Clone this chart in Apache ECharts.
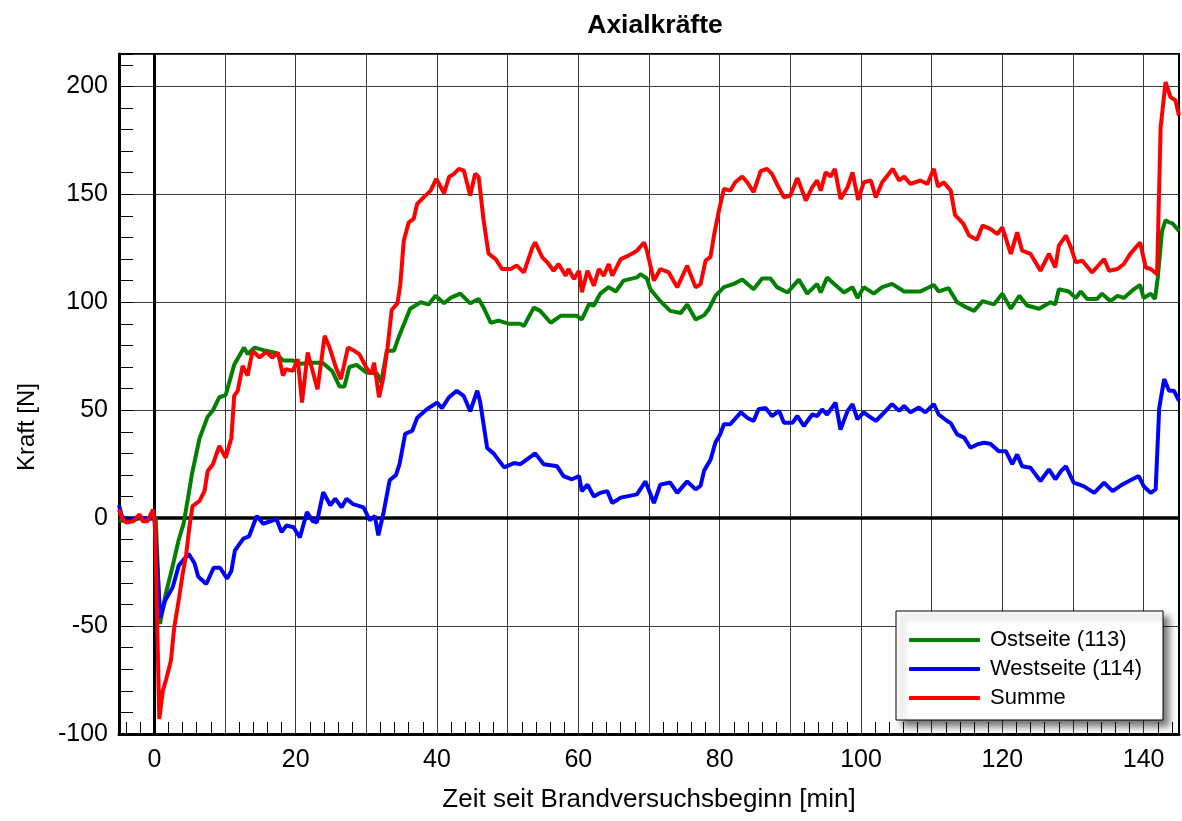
<!DOCTYPE html>
<html>
<head>
<meta charset="utf-8">
<title>Axialkräfte</title>
<script src="https://cdn.jsdelivr.net/npm/echarts@6/dist/echarts.min.js"></script>
<style>
  html, body { margin: 0; padding: 0; background: #fff; }
  #chart { width: 1182px; height: 821px; }
</style>
</head>
<body>
<div id="chart"></div>
<script>
// Axial forces [N] over time since start of the fire test [min]
const ostseite = [
  [-5,-1],[-4,-1.5],[-3,-1],[-2,0],[-1,-0.5],[-0.2,1],[0.2,0],[0.8,-49],[1.55,-36],[2.5,-23.5],
  [3.45,-10],[4.15,-2.5],[4.85,11],[5.3,20],[6.4,37],[7.55,47],[8.3,50],[9.2,56],[10.1,57],[11.3,71],
  [12.7,79],[13.2,76],[14.2,79],[15.8,77.5],[17.2,76.5],[18.2,73],[19.6,73],[20.8,71.5],[22.3,72],[23.8,72],
  [25.2,68],[26.2,61],[26.9,61],[27.6,70],[28.6,71],[30,67.5],[31.5,67],[32.1,63],[32.9,77.5],[33.9,77.5],
  [34.6,84],[36.2,97],[37.7,100],[38.8,99],[39.8,103],[41,99.5],[41.9,102],[43.3,104],[44.7,99.5],[45.9,101.5],
  [46.6,97.5],[47.6,90.5],[48.7,91.5],[50.2,90],[51.8,90],[52.3,89],[53.7,97.5],[54.6,96],[56.1,90.5],[57.5,93.7],
  [59.8,93.7],[60.5,92],[61.5,99],[62.2,98.5],[63.1,104],[64.3,107],[65.3,105],[66.4,110],[68.3,111.5],[68.8,113],
  [69.7,111],[70.2,106],[71.6,100.5],[73,96],[74.5,95],[75.4,99],[76.6,92],[77.8,94],[78.5,97],[79.4,103],
  [80.6,107],[82,108.5],[83.2,110.5],[84.8,106],[86,111],[87.2,111],[88.1,107],[89.6,104.5],[91.2,110.5],[92.4,104],
  [93.8,108.5],[94.3,104.5],[95.2,111.5],[96.2,108.5],[97.6,104.5],[98.8,107],[99.5,102],[100.4,107],[101.8,104],[103,107],
  [104.4,108.5],[106.1,105],[108.4,105],[110.3,108],[111,105],[112.4,106.5],[113.6,100],[115,97.5],[116,96],[117.2,100.5],
  [118.8,99],[120,104],[121.2,97],[122.4,103],[123.5,98.5],[125.2,97],[126.8,100],[127.5,99],[128,106],[129.4,105],
  [130.4,102],[131.1,105],[132,101.5],[133.4,101.5],[134.1,104],[135.3,100.5],[136.3,103],[137.2,102],[138.6,106],[139.5,108],
  [140,102],[141,104],[141.6,101.5],[142,111.5],[142.6,133],[143.1,138],[143.6,137],[144.1,136.5],[145,133]
];

const westseite = [
  [-5,6],[-4.6,1],[-4,-1],[-3,-0.5],[-2,0.5],[-1,-0.5],[0,0],[0.85,-46],[1.55,-38],[2.6,-32],
  [3.45,-22],[4.85,-16.5],[5.7,-21],[6.2,-27],[7.35,-30.5],[8.4,-23],[9.3,-23],[10.3,-28],[10.9,-24.5],[11.4,-15],
  [12.6,-9.5],[13.4,-8.5],[14.5,1],[15.4,-2.6],[17.3,-0.5],[18,-6.5],[18.7,-3.4],[19.7,-4.2],[20.6,-9],[21.6,2.8],
  [22.4,-1.4],[23,-2],[23.9,12],[24.9,6],[25.6,9],[26.5,5],[27.2,9],[28.1,6.5],[29.6,5],[30.5,-1],
  [31.2,1],[31.7,-8],[32.4,2],[33.3,17.5],[34.2,20],[34.7,25],[35.5,39],[36.5,40.5],[37.2,46.5],[38.6,50.5],
  [40,53.5],[40.7,51],[41.7,56],[42.8,59],[43.8,56.5],[44.7,49.5],[45.7,59],[46.1,54],[47.1,32.5],[48,30],
  [49.5,23.5],[50.9,25.5],[51.8,25],[53.9,30],[55.1,25],[57,24],[57.9,19.5],[59.1,18],[60.1,19.5],[60.5,12.5],
  [61.3,15.5],[62.2,10],[63.1,11.7],[64.1,12.5],[64.8,7],[66,9.5],[68.3,11],[69.5,17],[70.7,7],[71.6,15.5],
  [73,16.5],[74,11.7],[75.4,17],[76.6,13.3],[77.3,15],[77.8,22],[78.7,27],[79.4,35],[80.1,39],[80.6,43.5],
  [81.5,43.5],[83,49],[83.9,46.5],[84.8,45],[85.5,50.5],[86.5,51],[87.4,47.3],[88.4,49.7],[89.1,44.2],[90.3,44.2],
  [91,47.3],[91.9,42.7],[93.1,48],[93.8,47.3],[94.5,50.4],[95.2,48],[96.4,53.5],[97.1,41],[98.1,49.7],[98.8,52.8],
  [99.5,45.8],[100.4,49],[101.1,47.3],[102.1,45],[103,48],[104.4,52.8],[105.4,49.7],[106.1,52],[107,49],[108.2,51.2],
  [109.1,49],[110.3,52.8],[111,48],[112.2,45],[112.7,44],[113.6,38.8],[114.6,37.3],[115.5,32.6],[116.5,34.2],[117.4,34.9],
  [118.3,34.5],[119.5,31],[120.5,31],[121.4,25],[122.1,29.5],[122.8,24],[124,23.3],[125.4,17.2],[126.6,22.6],[127.5,18],
  [128.3,21.8],[129,24],[130.1,16.4],[131.5,14.8],[133,11.7],[134.4,16.4],[135.6,12.5],[137,15.6],[138.4,18],[139.3,19.5],
  [140,14.8],[141,11.7],[141.7,13.3],[142.2,51],[142.9,64.4],[143.6,59],[144.3,59],[145,54.3]
];

const summe = [
  [-5,4],[-4.6,0],[-4,-2],[-3,-1.5],[-2.1,1.7],[-1.65,-1.4],[-0.95,-1.4],[-0.2,4],[0.1,-2],[0.7,-93],
  [1.2,-80],[1.65,-75],[2.35,-66],[2.8,-51],[3.5,-37],[4,-26],[4.5,-17],[4.95,-4.5],[5.4,5.6],[6.4,8],
  [7.1,12.5],[7.55,21.8],[8.3,25],[9.2,33.4],[10.1,28],[10.9,37],[11.3,56.6],[11.8,59],[12.5,70.5],[13.2,66],
  [13.9,77.5],[14.9,74.4],[15.8,77],[16.7,74.4],[17.5,76.7],[18.2,66],[18.6,69],[19.6,68.2],[20.3,73.6],[20.9,53.5],
  [21.7,76.7],[22.4,68.2],[23.1,59.7],[24.1,84.5],[24.8,79],[25.7,69.7],[26.4,64.4],[27.4,79],[28.3,77.5],[29,76],
  [30,69.7],[30.7,66.7],[31.1,72],[31.8,56],[32.4,65],[33,79],[33.6,96.5],[34.4,99.5],[34.8,108],[35.3,128.5],
  [36,137],[36.7,138.6],[37.2,145.6],[38.1,148.6],[39.1,151.7],[39.9,157.2],[41,150.5],[41.7,158],[42.4,159.5],[43.1,161.8],
  [43.8,161],[44.7,149.4],[45.4,159.5],[45.9,158],[46.6,137.8],[47.3,122.5],[48.3,120],[49.2,115.4],[50.4,115.4],[51.3,117],
  [52.3,113.8],[53.5,125.4],[53.9,127.7],[54.9,120.8],[55.6,118.5],[56.5,114.6],[57.2,117.7],[58.2,112.3],[58.6,115.4],[59.4,110.8],
  [60.1,114.6],[60.5,104.6],[61.3,114.6],[62.2,107.7],[62.9,115.4],[63.6,112.3],[64.3,117.7],[64.8,112.3],[66,120],[67.1,121.6],
  [68.3,123.9],[69.3,127.7],[69.7,123.9],[70.7,110],[71.6,115.4],[72.8,113.8],[74,106.9],[75.4,116.9],[76.6,106.9],[77.3,108.4],
  [78,119.3],[78.7,121],[79.2,131],[79.9,142.5],[80.6,152.5],[81.5,151.7],[82.2,155.6],[83.2,158.2],[83.9,155.6],[84.8,151],
  [85.8,160.7],[86.7,161.8],[87.4,159.5],[88.1,154.8],[89.1,148.6],[90,149.4],[91,157.6],[92.2,147.1],[93.1,153.3],[93.8,156.4],
  [94.3,151.7],[95,160.2],[95.7,158.2],[96.3,161.8],[97.1,147.9],[98.1,153.3],[98.8,160.2],[99.6,147.4],[100.4,155.6],[101.4,156.4],
  [102.1,148.6],[103,155.6],[104.5,161.8],[105.4,156.4],[106.1,158.2],[107,154.8],[108.4,156.4],[109.4,154.8],[110.3,161.8],[110.9,153.6],
  [111.7,155.6],[112.7,151.7],[113.3,140.5],[114.5,136.3],[115.3,130.9],[116.4,129],[117.2,135.5],[118.3,134],[119.3,131.6],[120,134.7],
  [121.2,122.4],[122.1,132.4],[122.8,123.9],[124,122.4],[125.4,114.6],[126.6,122.4],[127.5,116.1],[128,126.2],[129,130.9],[129.7,125.4],
  [130.4,118.5],[131.3,119.3],[132.7,113.8],[134.4,120],[135.1,114.6],[136.3,115.4],[137.2,117.7],[138.1,122.4],[139.5,127.7],[140.3,116.1],
  [141,115.4],[141.6,113.8],[141.9,113],[142.4,181],[143.1,202],[143.8,195],[144.5,193.5],[145,186.5]
];

// Axis layout values
const xRange = [-5, 145];
const yRange = [-100, 215];
const xLabelValues = [0, 20, 40, 60, 80, 100, 120, 140];
const xGridValues = [10, 20, 30, 40, 50, 60, 70, 80, 90, 100, 110, 120, 130, 140];
const xMinorStep = 2;
const yStep = 50;

const xTickValues = [];
for (let v = -4; v < xRange[1]; v += xMinorStep) xTickValues.push(v);

const FONT = '"Liberation Sans", Arial, Helvetica, sans-serif';
const GRID_COLOR = '#3a3a3a';

const chart = echarts.init(document.getElementById('chart'), null, { renderer: 'canvas' });

const rasterLines = xGridValues.map(v => ({ xAxis: v, lineStyle: { color: GRID_COLOR, width: 1, type: 'solid' } }));
rasterLines.push({ xAxis: 0, lineStyle: { color: '#000', width: 3, type: 'solid' } });
rasterLines.push({ yAxis: 0, lineStyle: { color: '#000', width: 3.5, type: 'solid' } });

chart.setOption({
  animation: false,
  backgroundColor: '#fff',
  title: {
    text: 'Axialkräfte',
    left: 650,
    textAlign: 'center',
    top: 7,
    textStyle: { fontFamily: FONT, fontSize: 26.5, fontWeight: 'bold', color: '#000' }
  },
  grid: {
    left: 119, right: 3, top: 54, bottom: 87,
    show: true, borderColor: '#000', borderWidth: 2, backgroundColor: 'transparent'
  },
  legend: {
    data: ['Ostseite (113)', 'Westseite (114)', 'Summe'],
    orient: 'vertical',
    left: 896, top: 611,
    icon: 'roundRect',
    itemWidth: 71, itemHeight: 4, itemGap: 5,
    padding: [17, 21, 10, 13],
    backgroundColor: '#fff',
    borderColor: '#000', borderWidth: 1, borderRadius: 0,
    shadowColor: 'rgba(0,0,0,0.55)', shadowBlur: 7, shadowOffsetX: 6, shadowOffsetY: 6,
    textStyle: { fontFamily: FONT, fontSize: 22, color: '#000', lineHeight: 24, padding: [0, 0, 0, 5] },
    selectedMode: false
  },
  xAxis: {
    type: 'value',
    min: xRange[0], max: xRange[1],
    name: 'Zeit seit Brandversuchsbeginn [min]',
    nameLocation: 'middle', nameGap: 53,
    nameTextStyle: { fontFamily: FONT, fontSize: 26, color: '#000' },
    axisLine: { show: true, onZero: false, lineStyle: { color: '#000', width: 3 } },
    axisTick: { show: true, inside: true, length: 12, customValues: xTickValues, lineStyle: { color: '#000', width: 1 } },
    axisLabel: { customValues: xLabelValues, fontFamily: FONT, fontSize: 25, color: '#000', margin: 14 },
    splitLine: { show: false }
  },
  yAxis: {
    type: 'value',
    min: yRange[0], max: yRange[1], interval: yStep,
    name: 'Kraft [N]',
    nameLocation: 'middle', nameGap: 80, nameRotate: 90,
    nameTextStyle: { fontFamily: FONT, fontSize: 24, color: '#000', padding: [0, 66, 0, 0] },
    axisLine: { show: true, onZero: false, lineStyle: { color: '#000', width: 3 } },
    axisTick: { show: true, inside: true, length: 14, lineStyle: { color: '#000', width: 1 } },
    minorTick: { show: true, splitNumber: 5, length: 14, lineStyle: { color: '#000', width: 1 } },
    axisLabel: {
      fontFamily: FONT, fontSize: 25, color: '#000', margin: 11,
      formatter: v => (v % yStep === 0 ? String(v) : '')
    },
    splitLine: { show: true, lineStyle: { color: GRID_COLOR, width: 1 } }
  },
  series: [
    {
      name: 'Ostseite (113)', type: 'line', data: ostseite,
      symbol: 'none', clip: true, z: 3,
      lineStyle: { color: '#008000', width: 4 }, itemStyle: { color: '#008000' },
      markLine: { silent: true, symbol: 'none', z: 1, label: { show: false }, data: rasterLines }
    },
    {
      name: 'Westseite (114)', type: 'line', data: westseite,
      symbol: 'none', clip: true, z: 3,
      lineStyle: { color: '#0000ff', width: 4 }, itemStyle: { color: '#0000ff' }
    },
    {
      name: 'Summe', type: 'line', data: summe,
      symbol: 'none', clip: true, z: 3,
      lineStyle: { color: '#ff0000', width: 4 }, itemStyle: { color: '#ff0000' }
    }
  ]
});
</script>
</body>
</html>
